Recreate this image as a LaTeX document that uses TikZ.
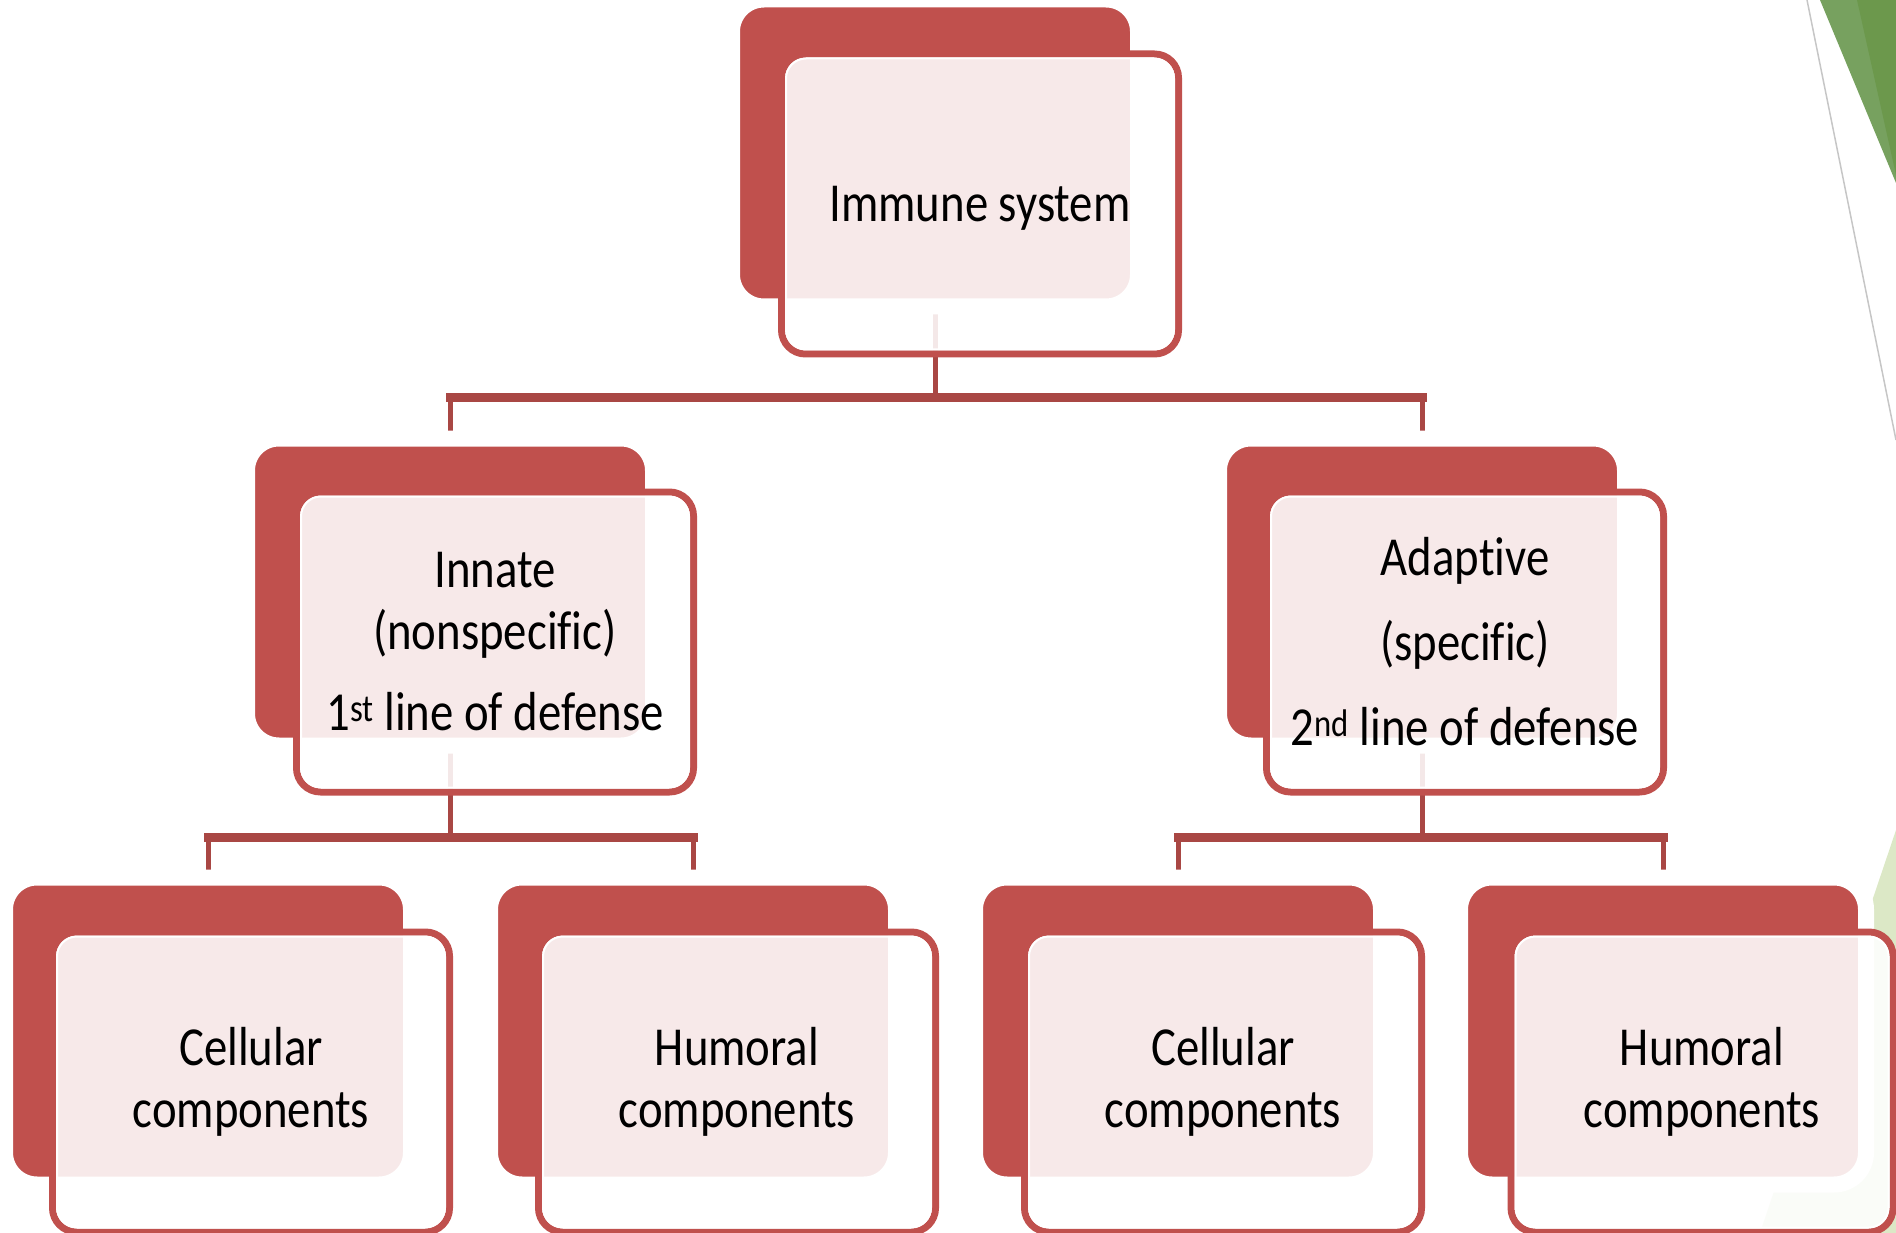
\documentclass[tikz,border=0pt]{standalone}
\usepackage{fontspec}
\setmainfont{Carlito}[FakeStretch=0.85, Ligatures=NoCommon]
\usetikzlibrary{calc,backgrounds}
\definecolor{boxred}{HTML}{C0504D}
\definecolor{linkred}{HTML}{A94744}
\definecolor{leafgreen}{HTML}{77A15F}
\definecolor{leafdark}{HTML}{6C984C}
\definecolor{palegreen}{HTML}{DCE8C6}

\begin{document}
\begin{tikzpicture}[x=1pt, y=-1pt,
  back/.style={fill=boxred, draw=white, line width=16pt, rounded corners=32pt,
    minimum width=406pt, minimum height=307pt, outer sep=0pt},
  front/.style={fill=white, fill opacity=0.88, text opacity=1, draw=boxred,
    line width=7pt, rounded corners=24pt, minimum width=397pt, minimum height=300pt,
    outer sep=0pt, align=center, font=\fontsize{55}{62}\selectfont},
  rim/.style={draw=white, line width=2pt, rounded corners=20pt},
  stem/.style={draw=linkred, line width=5pt},
  bar/.style={draw=linkred, line width=9pt, line cap=rect}]
\useasboundingbox (0,0) rectangle (1896,1233);

\node[back] (b-top) at (935,153) {};
\node[back] (b-inn) at (450,592) {};
\node[back] (b-ada) at (1422,592) {};
\node[back] (b-cel1) at (208,1031) {};
\node[back] (b-hum1) at (693,1031) {};
\node[back] (b-cel2) at (1178,1031) {};
\node[back] (b-hum2) at (1663,1031) {};

\node[front, text depth=0pt] (top) at (980,204) {Immune system};
\node[front] (inn) at (495,642) {Innate\\(nonspecific)\\[19pt]1\textsuperscript{st} line of defense};
\node[front] (ada) at (1465,642) {Adaptive\\[23pt](specific)\\[23pt]2\textsuperscript{nd} line of defense};
\node[front] (cel1) at (251,1082) {Cellular\\components};
\node[front] (hum1) at (737,1082) {Humoral\\components};
\node[front] (cel2) at (1223,1082) {Cellular\\components};
\node[front, minimum width=382pt] (hum2) at (1702,1082) {Humoral\\components};

\foreach \n in {top,inn,ada,cel1,hum1,cel2,hum2}
  \draw[rim] ($(\n.south west)+(4.5,-4.5)$) rectangle ($(\n.north east)+(-4.5,4.5)$);

\coordinate (j-top) at (935,397);
\coordinate (j-inn) at (450,837);
\coordinate (j-ada) at (1422,837);

\begin{scope}[on background layer]
\fill[palegreen] (1896,830) -- (1760,1233) -- (1896,1233) -- cycle;
\fill[leafgreen] (1820,0) -- (1896,183) -- (1896,0) -- cycle;
\fill[leafdark] (1857,0) -- (1896,175) -- (1896,0) -- cycle;
\draw[gray!45, line width=1.5pt] (1807,0) -- (1896,440);

\draw[stem] (b-top.south) -- (j-top);
\draw[stem] (b-inn.north) |- (j-top) -| (b-ada.north);
\draw[bar] (b-inn.north |- j-top) -- (b-ada.north |- j-top);

\draw[stem] (b-inn.south) -- (j-inn);
\draw[stem] (b-cel1.north) |- (j-inn) -| (b-hum1.north);
\draw[bar] (b-cel1.north |- j-inn) -- (b-hum1.north |- j-inn);

\draw[stem] (b-ada.south) -- (j-ada);
\draw[stem] (b-cel2.north) |- (j-ada) -| (b-hum2.north);
\draw[bar] (b-cel2.north |- j-ada) -- (b-hum2.north |- j-ada);
\end{scope}
\end{tikzpicture}
\end{document}
